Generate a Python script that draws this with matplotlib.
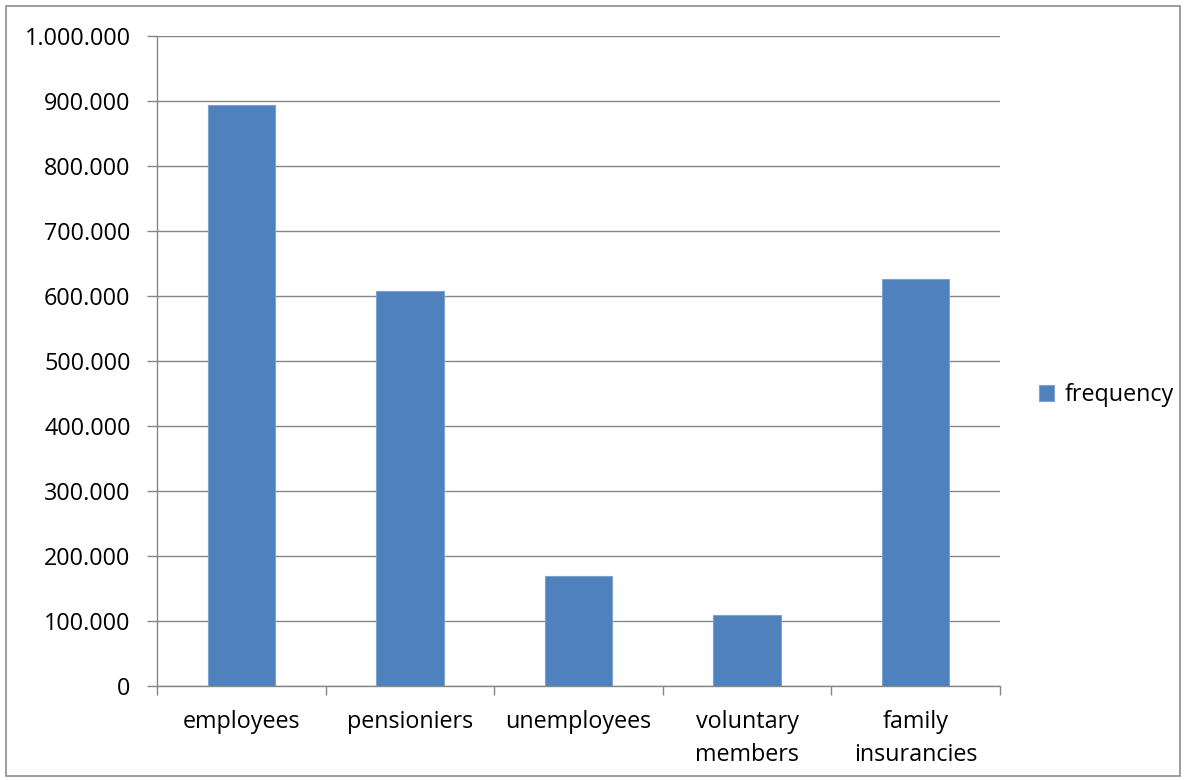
import matplotlib
matplotlib.use("Agg")
import matplotlib.pyplot as plt
from matplotlib.patches import Rectangle
from matplotlib.ticker import FuncFormatter, FixedLocator
import numpy as np

categories = ["employees", "pensioniers", "unemployees", "voluntary\nmembers", "family\ninsurancies"]
frequency = [894000, 608000, 169000, 110000, 626000]
y_ticks = [0, 100000, 200000, 300000, 400000, 500000, 600000, 700000, 800000, 900000, 1000000]

plt.rcParams["font.family"] = ["Open Sans", "DejaVu Sans"]

W, H = 1187, 780
fig = plt.figure(figsize=(W / 100, H / 100), dpi=100)
ax = fig.add_axes([157 / W, 1 - 686 / H, (1000 - 157) / W, (686 - 36) / H])

grid_c = "#868686"
fs = 16.8
x = np.arange(len(categories))
ax.bar(x, frequency, width=0.4, color="#4F81BD", edgecolor="#7EA2CE",
       linewidth=0.8, label="frequency", zorder=3)

ax.set_xlim(-0.5, len(categories) - 0.5)
ax.set_ylim(0, 1000000)
ax.set_yticks(y_ticks)
ax.yaxis.set_major_formatter(FuncFormatter(lambda v, p: f"{int(v):,}".replace(",", ".")))
ax.yaxis.grid(True, color=grid_c, linewidth=1.0, zorder=0)

ax.set_xticks(x)
ax.set_xticklabels(categories, linespacing=1.5)
ax.xaxis.set_minor_locator(FixedLocator(np.arange(-0.5, len(categories), 1.0)))
ax.tick_params(axis="x", which="major", length=0, pad=17, labelsize=fs, colors="black")
ax.tick_params(axis="x", which="minor", length=6.5, width=1.0, color=grid_c, direction="out")
ax.tick_params(axis="y", length=7, width=1.0, color=grid_c, direction="out", pad=12,
               labelsize=fs)

for s in ["top", "right"]:
    ax.spines[s].set_visible(False)
for s in ["left", "bottom"]:
    ax.spines[s].set_color(grid_c)
    ax.spines[s].set_linewidth(1.0)

leg = ax.legend(loc="center left", bbox_to_anchor=(1.035, 0.447), frameon=False,
                fontsize=fs, handlelength=0.65, handleheight=0.65, handletextpad=0.45,
                borderaxespad=0)

fig.patches.append(Rectangle((6 / W, 4 / H), (1180 - 6) / W, (774 - 4) / H,
                             transform=fig.transFigure, fill=False,
                             edgecolor="#8C8C8C", linewidth=1.2))

fig.savefig("out.png", dpi=100)
